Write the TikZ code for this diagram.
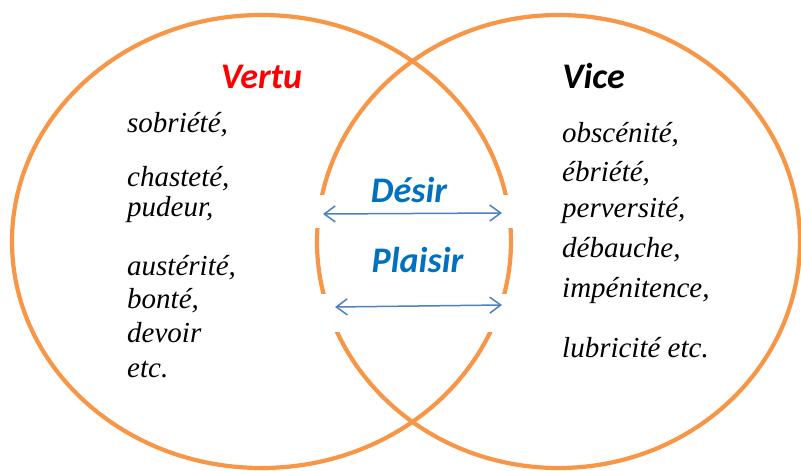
\documentclass[tikz,border=0pt]{standalone}
\usepackage{fontspec}
\setmainfont{Liberation Serif}
\newfontfamily\titlefont{Carlito}
\usetikzlibrary{arrows.meta}
\definecolor{circorange}{HTML}{F79646}
\definecolor{arrowblue}{HTML}{4F81BD}
\definecolor{wordblue}{HTML}{0070C0}
\definecolor{vertured}{HTML}{FF0000}
\begin{document}
\begin{tikzpicture}[x=1pt,y=-1pt,
 ring/.style={draw=circorange, line width=4.2pt},
 title/.style={font=\titlefont\bfseries\itshape\fontsize{36}{36}\selectfont, anchor=base, inner sep=0pt},
 item/.style={font=\itshape\fontsize{29}{29}\selectfont, anchor=base west, inner sep=0pt, text=black},
 link/.style={draw=arrowblue, line width=1.5pt, {Straight Barb[length=11pt,width=16pt]}-{Straight Barb[length=11pt,width=16pt]}},
 gapbox/.style={fill=white, draw=none}]
\useasboundingbox (0,0) rectangle (801,471);
% circles
\draw[ring] (261.5,241.5) ellipse [x radius=249.5pt, y radius=226.5pt];
\draw[ring] (558.5,241.5) ellipse [x radius=241.5pt, y radius=226.5pt];
% white gaps behind arrows
\fill[gapbox] (305,195) rectangle (522,228);
\fill[gapbox] (305,294) rectangle (522,332);
% titles
\node[title, text=vertured] (vertu) at (261.5,88) {Vertu};
\node[title, text=black] (vice) at (593.5,88) {Vice};
\node[title, text=wordblue] (desir) at (409,202) {Désir};
\node[title, text=wordblue] (plaisir) at (417.5,272) {Plaisir};
% left column
\node[item] (l1) at (127,132) {sobriété,};
\node[item] (l2) at (127,186) {chasteté,};
\node[item] (l3) at (127,216) {pudeur,};
\node[item] (l4) at (127,275) {austérité,};
\node[item] (l5) at (127,308) {bonté,};
\node[item] (l6) at (127,342) {devoir};
\node[item] (l7) at (127,377) {etc.};
% right column
\node[item] (r1) at (562,142) {obscénité,};
\node[item] (r2) at (562,181) {ébriété,};
\node[item] (r3) at (562,217) {perversité,};
\node[item] (r4) at (562,257) {débauche,};
\node[item] (r5) at (562,297) {impénitence,};
\node[item] (r6) at (562,357) {lubricité etc.};
% arrows
\coordinate (a1l) at (323,214);
\coordinate (a1r) at (502,213);
\coordinate (a2l) at (335,307);
\coordinate (a2r) at (502,305);
\draw[link] (a1l) -- (a1r);
\draw[link] (a2l) -- (a2r);
\end{tikzpicture}
\end{document}
